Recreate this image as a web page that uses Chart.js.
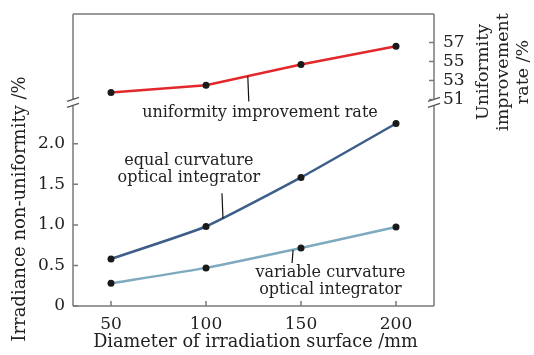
<!DOCTYPE html>
<html>
<head>
<meta charset="utf-8">
<script src="https://cdn.jsdelivr.net/npm/chart.js@4.4.0/dist/chart.umd.min.js"></script>
<style>
  html, body { margin: 0; padding: 0; background: #fff; }
  #wrap { width: 534px; height: 355px; }
</style>
</head>
<body>
<div id="wrap"><canvas id="myChart" width="534" height="355"></canvas></div>
<script>
// data
const diameters = [50, 100, 150, 200];
const equalCurvature = [0.58, 0.98, 1.585, 2.25];
const variableCurvature = [0.28, 0.47, 0.715, 0.975];
const improvementRate = [51.75, 52.5, 54.7, 56.6];

const xTicks = [50, 100, 150, 200];
const leftTicks = [0, 0.5, 1.0, 1.5, 2.0];
const rightTicks = [51, 53, 55, 57];

const FONT = "'DejaVu Serif', serif";
const TEXT = "#222";
const FRAME = "#7a7a7a";

// annotation labels: text lines, anchor (x, y, axis), leader line [x, yFrom, yTo]
const notes = [
  { lines: ["uniformity improvement rate"], x: 128.4, y: 49.6, axis: "y1", lead: [122, 53.45, 50.8] },
  { lines: ["equal curvature", "optical integrator"], x: 91, y: 1.79, axis: "y", lead: [108.4, 1.39, 1.08] },
  { lines: ["variable curvature", "optical integrator"], x: 165.5, y: 0.405, axis: "y", lead: [145.3, 0.53, 0.69] },
];

function fitVertical(w) {
  return (scale) => {
    scale.width = w;
    scale.paddingTop = 0;
    scale.paddingBottom = 0;
  };
}

const decorations = {
  id: "decorations",
  afterDraw(chart) {
    const ctx = chart.ctx;
    const { left, right, top, bottom } = chart.chartArea;
    const xs = chart.scales.x, ys = chart.scales.y, y1 = chart.scales.y1;
    const breakY = y1.getPixelForValue(50.7);

    ctx.save();
    ctx.strokeStyle = FRAME;
    ctx.lineWidth = 1.5;
    ctx.beginPath();
    // top and bottom
    ctx.moveTo(left, top); ctx.lineTo(right, top);
    ctx.moveTo(left, bottom); ctx.lineTo(right, bottom);
    // left and right with a gap at the break
    ctx.moveTo(left, top); ctx.lineTo(left, breakY - 3);
    ctx.moveTo(left, breakY + 3); ctx.lineTo(left, bottom);
    ctx.moveTo(right, top); ctx.lineTo(right, breakY - 3);
    ctx.moveTo(right, breakY + 3); ctx.lineTo(right, bottom);
    ctx.stroke();

    // break slashes
    ctx.strokeStyle = "#555";
    ctx.lineWidth = 1.3;
    ctx.beginPath();
    [left, right].forEach((px) => {
      ctx.moveTo(px - 6, breakY - 1); ctx.lineTo(px + 6, breakY - 5);
      ctx.moveTo(px - 6, breakY + 5); ctx.lineTo(px + 6, breakY + 1);
    });
    ctx.stroke();

    // tick marks, all pointing inward
    ctx.strokeStyle = FRAME;
    ctx.lineWidth = 1.5;
    ctx.beginPath();
    xTicks.forEach((v) => {
      const px = xs.getPixelForValue(v);
      ctx.moveTo(px, bottom); ctx.lineTo(px, bottom - 5);
    });
    leftTicks.forEach((v) => {
      const py = ys.getPixelForValue(v);
      ctx.moveTo(left, py); ctx.lineTo(left + 5, py);
    });
    rightTicks.forEach((v) => {
      const py = y1.getPixelForValue(v);
      ctx.moveTo(right, py); ctx.lineTo(right - 5, py);
    });
    ctx.stroke();

    // annotations
    ctx.fillStyle = TEXT;
    ctx.font = "16px " + FONT;
    ctx.textAlign = "center";
    ctx.textBaseline = "middle";
    ctx.strokeStyle = "#111";
    ctx.lineWidth = 1.2;
    notes.forEach((n) => {
      const sc = chart.scales[n.axis];
      const cx = xs.getPixelForValue(n.x);
      const cy = sc.getPixelForValue(n.y);
      n.lines.forEach((t, i) => ctx.fillText(t, cx, cy + i * 17));
      const lx = xs.getPixelForValue(n.lead[0]);
      ctx.beginPath();
      ctx.moveTo(lx, sc.getPixelForValue(n.lead[1]));
      ctx.lineTo(lx + 1, sc.getPixelForValue(n.lead[2]));
      ctx.stroke();
    });

    // axis titles
    ctx.font = "17.7px " + FONT;
    ctx.fillText("Diameter of irradiation surface /mm", (left + right) / 2 + 2, 342);

    ctx.save();
    ctx.translate(20, 209);
    ctx.rotate(-Math.PI / 2);
    ctx.font = "18px " + FONT;
    ctx.fillText("Irradiance non-uniformity /%", 0, 0);
    ctx.restore();

    ctx.save();
    ctx.translate(503, 72);
    ctx.rotate(-Math.PI / 2);
    ctx.font = "17.5px " + FONT;
    ["Uniformity", "improvement", "rate /%"].forEach((t, i) => ctx.fillText(t, 0, (i - 1) * 20));
    ctx.restore();

    ctx.restore();
  },
};

const pointStyle = { pointRadius: 3.5, pointBackgroundColor: "#1a1a1a", pointBorderColor: "#1a1a1a", pointBorderWidth: 0 };

new Chart(document.getElementById("myChart"), {
  type: "line",
  data: {
    datasets: [
      {
        label: "uniformity improvement rate",
        data: diameters.map((d, i) => ({ x: d, y: improvementRate[i] })),
        yAxisID: "y1",
        borderColor: "#e3282c",
        borderWidth: 2.5,
        ...pointStyle,
      },
      {
        label: "equal curvature optical integrator",
        data: diameters.map((d, i) => ({ x: d, y: equalCurvature[i] })),
        yAxisID: "y",
        borderColor: "#3d5d8a",
        borderWidth: 2.5,
        tension: 0.15,
        ...pointStyle,
      },
      {
        label: "variable curvature optical integrator",
        data: diameters.map((d, i) => ({ x: d, y: variableCurvature[i] })),
        yAxisID: "y",
        borderColor: "#7eaabf",
        borderWidth: 2.5,
        tension: 0.15,
        ...pointStyle,
      },
    ],
  },
  options: {
    responsive: false,
    animation: false,
    layout: { padding: { top: 14, left: 0, right: 0, bottom: 0 } },
    plugins: { legend: { display: false }, tooltip: { enabled: false } },
    scales: {
      x: {
        type: "linear",
        min: 30,
        max: 220,
        afterBuildTicks: (s) => { s.ticks = xTicks.map((v) => ({ value: v })); },
        afterFit: (s) => { s.height = 49; s.paddingLeft = 0; s.paddingRight = 0; },
        grid: { display: false, drawTicks: false },
        border: { display: false },
        ticks: { color: TEXT, font: { family: FONT, size: 17 }, padding: 8 },
      },
      y: {
        position: "left",
        min: 0,
        max: 3.6,
        afterBuildTicks: (s) => { s.ticks = leftTicks.map((v) => ({ value: v })); },
        afterFit: fitVertical(73),
        grid: { display: false, drawTicks: false },
        border: { display: false },
        ticks: {
          color: TEXT,
          font: { family: FONT, size: 17 },
          padding: 8,
          callback: (v) => (v === 0 ? "0" : v.toFixed(1)),
        },
      },
      y1: {
        position: "right",
        min: 29.3,
        max: 60,
        afterBuildTicks: (s) => { s.ticks = rightTicks.map((v) => ({ value: v })); },
        afterFit: fitVertical(100),
        grid: { display: false, drawTicks: false },
        border: { display: false },
        ticks: { color: TEXT, font: { family: FONT, size: 17 }, padding: 9 },
      },
    },
  },
  plugins: [decorations],
});
</script>
</body>
</html>
